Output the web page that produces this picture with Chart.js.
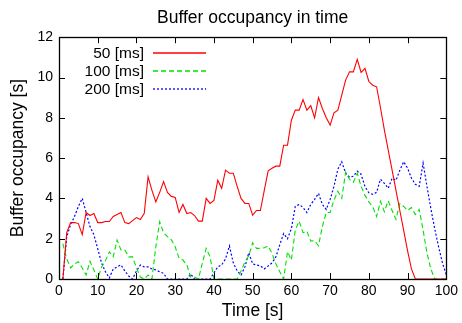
<!DOCTYPE html>
<html><head><meta charset="utf-8">
<script src="https://cdn.jsdelivr.net/npm/chart.js@4/dist/chart.umd.min.js"></script>
<style>html,body{margin:0;padding:0;background:#fff}canvas{display:block}</style>
</head><body>
<canvas id="c" width="462" height="323"></canvas>
<script>
const times = [1,2,3,4,5,6,7,8,9,10,11,12,13,14,15,16,17,18,19,20,21,22,23,24,25,26,27,28,29,30,31,32,33,34,35,36,37,38,39,40,41,42,43,44,45,46,47,48,49,50,51,52,53,54,55,56,57,58,59,60,61,62,63,64,65,66,67,68,69,70,71,72,73,74,75,76,77,78,79,80,81,82,83,84,85,86,87,88,89,90,91,92,93,94,95,96,97,98,99,100];
const labels = ['50 [ms]', '100 [ms]', '200 [ms]'];
const s50 = [0,2.3,2.8,2.8,2.75,2.2,3.3,3.15,3.25,2.8,
 2.8,2.85,2.85,3.1,3.2,3.3,2.8,2.75,2.9,3.05,
 2.95,3.25,5.07,4.4,3.83,4.3,4.83,4.3,4.1,4.05,
 3.3,3.7,3.25,3.3,3.15,2.87,2.87,4.0,3.75,3.9,
 4.9,4.5,5.4,5.25,5.25,4.6,4.0,3.75,3.75,3.17,
 3.4,3.4,4.4,5.37,5.5,5.6,5.6,6.64,6.64,7.88,
 8.38,8.38,8.9,8.38,8.6,8.0,9.0,8.46,8.0,7.64,
 8.25,8.38,9.12,9.87,10.28,10.28,10.9,10.25,10.45,9.8,
 9.62,9.54,8.5,7.4,6.4,5.4,4.4,3.4,2.4,1.4,
 0.5,0,0,0,0,0,0,0,0,0];
const s100 = [1.75,1.0,0.55,0.75,0.86,0.55,0.2,0.88,0.45,0,
 0.6,0.9,1.35,1.1,1.93,1.44,1.44,1.1,1.1,0.55,
 0.1,0,0.2,0,1.6,2.84,2.3,2.1,1.95,1.6,
 1.02,0.94,0.7,0.1,0.1,0,0.78,1.52,1.1,0,
 0,0,0,0,0,0,0.4,0.85,1.15,1.8,
 1.52,1.52,1.55,1.64,1.27,0.75,0.36,0,1.36,0.94,
 2.43,2.87,2.3,2.37,1.88,1.9,1.65,2.6,3.3,3.3,
 3.92,4.35,4.0,5.3,4.95,4.8,5.24,4.6,4.15,3.83,
 3.58,3.1,3.85,3.34,3.88,3.4,2.96,3.75,3.6,3.4,
 3.55,3.2,3.45,2.43,1.3,0.5,0,0,0,0];
const s200 = [0,2.1,2.7,3.1,3.6,4.0,3.3,2.6,2.2,1.5,
 0.78,0.36,0.05,0.5,0.6,0.7,0.4,0.15,0,0.4,
 0.69,0.6,0.6,0.5,0.45,0.36,0.28,0,0,0,
 0,0,0,0.25,0,0,0,0,0,0.3,
 0.6,0.7,1.0,1.64,0.8,0.4,0.2,0.6,1.3,0.75,
 0.7,0.65,0.5,0.65,0.8,1.1,1.7,2.26,2.0,2.5,
 3.6,3.7,3.55,3.3,3.7,3.95,4.25,3.7,3.45,3.95,
 4.6,5.45,5.82,5.25,5.05,5.1,5.35,5.2,4.58,4.28,
 4.2,4.3,4.95,4.75,4.5,5.0,4.9,5.4,5.82,5.5,
 5.0,4.7,4.6,5.75,4.6,3.5,2.5,1.6,0.8,0.2];
const xTicks = [0,10,20,30,40,50,60,70,80,90,100];
const yTicks = [0,2,4,6,8,10,12];
const colors = ['#ff0000', '#00e000', '#0000ff'];
const dashes = [[], [5, 3], [2, 2]];

const FONT = 'Liberation Sans, Arial, Helvetica, sans-serif';
const pts = arr => times.map((t,i) => ({x:t, y:arr[i]}));

const frame = {
  id: 'frame',
  afterDatasetsDraw(chart) {
    const {ctx, chartArea: a, scales: {x, y}} = chart;
    ctx.save();
    ctx.strokeStyle = '#000';
    ctx.lineWidth = 1;
    ctx.beginPath();
    xTicks.forEach(v => {
      const px = Math.round(x.getPixelForValue(v)) + 0.5;
      ctx.moveTo(px, a.bottom); ctx.lineTo(px, a.bottom - 6);
      ctx.moveTo(px, a.top); ctx.lineTo(px, a.top + 6);
    });
    yTicks.forEach(v => {
      const py = Math.round(y.getPixelForValue(v)) + 0.5;
      ctx.moveTo(a.left, py); ctx.lineTo(a.left + 6, py);
      ctx.moveTo(a.right, py); ctx.lineTo(a.right - 6, py);
    });
    ctx.stroke();
    ctx.lineWidth = 1.3;
    ctx.strokeRect(Math.round(a.left) + 0.5, Math.round(a.top) + 0.5, Math.round(a.right - a.left), Math.round(a.bottom - a.top));
    // legend
    const rows = [53, 71, 89];
    ctx.font = '15.5px ' + FONT;
    ctx.textAlign = 'right';
    ctx.textBaseline = 'middle';
    labels.forEach((lab, i) => {
      ctx.fillStyle = '#000';
      ctx.fillText(lab, 144, rows[i] + 1);
      ctx.beginPath();
      ctx.strokeStyle = colors[i];
      ctx.lineWidth = 1.3;
      ctx.setLineDash(dashes[i]);
      ctx.moveTo(153, rows[i]); ctx.lineTo(206, rows[i]);
      ctx.stroke();
      ctx.setLineDash([]);
    });
    ctx.restore();
  }
};

new Chart(document.getElementById('c'), {
  type: 'line',
  data: {
    datasets: [
      {label: labels[0], data: pts(s50), borderColor: colors[0], borderWidth: 1.1, borderDash: dashes[0], pointRadius: 0, tension: 0},
      {label: labels[1], data: pts(s100), borderColor: colors[1], borderWidth: 1.1, borderDash: dashes[1], pointRadius: 0, tension: 0},
      {label: labels[2], data: pts(s200), borderColor: colors[2], borderWidth: 1.2, borderDash: dashes[2], pointRadius: 0, tension: 0}
    ]
  },
  options: {
    responsive: false,
    animation: false,
    devicePixelRatio: 1,
    layout: {padding: {left: 0, right: 13, top: 0, bottom: 0}},
    plugins: {
      legend: {display: false},
      tooltip: {enabled: false},
      title: {display: true, fullSize: false, text: 'Buffer occupancy in time', color: '#000',
        font: {family: FONT, size: 17.5, weight: 'normal'}, padding: {top: 8, bottom: 8.2}}
    },
    scales: {
      x: {
        type: 'linear', min: 0, max: 100,
        afterBuildTicks: s => { s.ticks = xTicks.map(v => ({value: v})); },
        afterFit: s => { s.height = 44; },
        grid: {display: false, drawTicks: false},
        border: {display: false},
        ticks: {color: '#000', font: {family: FONT, size: 14}, padding: 4, maxRotation: 0, autoSkip: false},
        title: {display: true, text: 'Time [s]', color: '#000', font: {family: FONT, size: 17.5}, padding: {top: 0, bottom: 1}}
      },
      y: {
        type: 'linear', min: 0, max: 12,
        afterBuildTicks: s => { s.ticks = yTicks.map(v => ({value: v})); },
        afterFit: s => { s.width = 59; },
        grid: {display: false, drawTicks: false},
        border: {display: false},
        ticks: {color: '#000', font: {family: FONT, size: 14}, padding: 6},
        title: {display: true, text: 'Buffer occupancy [s]', color: '#000', font: {family: FONT, size: 17.5}, padding: {top: 8, bottom: 0}}
      }
    }
  },
  plugins: [frame]
});
</script>
</body></html>
